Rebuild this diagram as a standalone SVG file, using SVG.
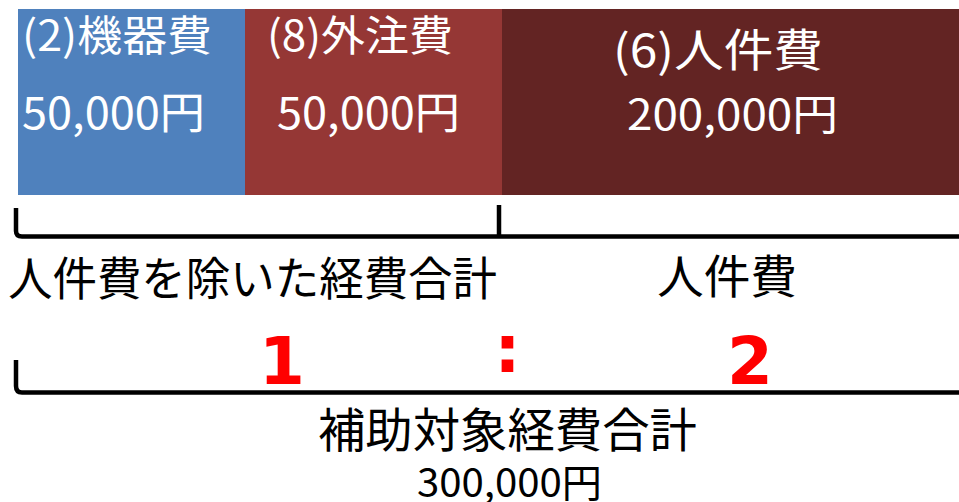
<svg xmlns="http://www.w3.org/2000/svg" width="959" height="502" viewBox="0 0 959 502">
<style>
.w{fill:#ffffff;font-family:"Noto Sans CJK JP","Noto Sans",sans-serif;}
.k{fill:#000000;font-family:"Noto Sans CJK JP","Noto Sans",sans-serif;}
.r{fill:#ff0000;font-family:"DejaVu Sans",sans-serif;font-weight:bold;font-size:66px;text-anchor:middle;}
.br{fill:none;stroke:#000000;stroke-width:4.5;}
</style>
<rect width="959" height="502" fill="#ffffff"/>
<g id="kiki">
<rect x="18" y="9" width="227" height="186" fill="#4f81bd"/>
<text class="w" x="22" y="51" font-size="42" textLength="190" lengthAdjust="spacingAndGlyphs">(2)機器費</text>
<text class="w" x="22" y="129" font-size="44" textLength="183" lengthAdjust="spacingAndGlyphs">50,000円</text>
</g>
<g id="gaichu">
<rect x="245" y="9" width="257" height="186" fill="#953735"/>
<text class="w" x="267" y="51" font-size="42" textLength="186" lengthAdjust="spacingAndGlyphs">(8)外注費</text>
<text class="w" x="277" y="129" font-size="44" textLength="183" lengthAdjust="spacingAndGlyphs">50,000円</text>
</g>
<g id="jinken">
<rect x="502" y="9" width="457" height="186" fill="#632423"/>
<text class="w" x="613" y="67" font-size="45" textLength="210" lengthAdjust="spacingAndGlyphs">(6)人件費</text>
<text class="w" x="627" y="130" font-size="42" textLength="211" lengthAdjust="spacingAndGlyphs">200,000円</text>
</g>
<g id="connectors">
<path class="br" d="M16,208 V231 Q16,236.5 22,236.5 H959"/>
<path class="br" d="M499,205 V238"/>
<path class="br" d="M16,360 V386 Q16,392.5 22,392.5 H959"/>
</g>
<g id="labels">
<text class="k" x="8" y="295" font-size="46" textLength="489" lengthAdjust="spacingAndGlyphs">人件費を除いた経費合計</text>
<text class="k" x="657" y="293" font-size="46" textLength="140" lengthAdjust="spacingAndGlyphs">人件費</text>
<text class="r" x="282" y="384">1</text>
<text class="r" x="507.5" y="372">:</text>
<text class="r" x="750" y="384">2</text>
<text class="k" x="318" y="447" font-size="47" textLength="379" lengthAdjust="spacingAndGlyphs">補助対象経費合計</text>
<text class="k" x="417" y="497" font-size="39" textLength="185" lengthAdjust="spacingAndGlyphs">300,000円</text>
</g>
</svg>
